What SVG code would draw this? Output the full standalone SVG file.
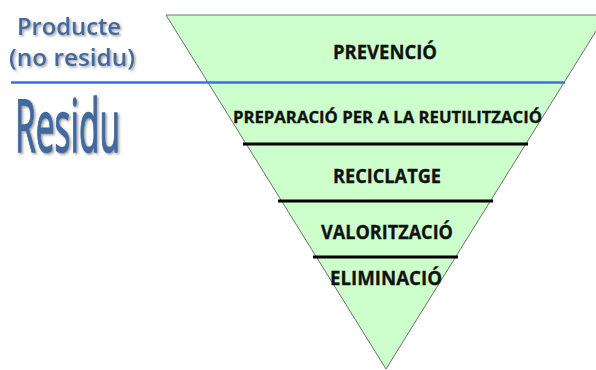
<svg xmlns="http://www.w3.org/2000/svg" width="596" height="370" viewBox="0 0 596 370">
<style>
.lvl{font-family:"Open Sans","Liberation Sans",sans-serif;font-weight:bold;fill:#111;stroke:#111;stroke-width:0.3;text-anchor:middle}
.side{font-family:"Open Sans","Liberation Sans",sans-serif;fill:#3f6aa0;filter:url(#sh)}
.sep{stroke:#000;stroke-width:3}
</style>
<defs>
<filter id="sh" x="-10%" y="-10%" width="130%" height="140%">
<feDropShadow dx="1.5" dy="1.5" stdDeviation="0.8" flood-color="#888" flood-opacity="0.8"/>
</filter>
</defs>
<rect width="596" height="370" fill="#fff"/>
<g id="pyramid">
<polygon points="166,15 606,15 386,369" fill="#ccffcc" stroke="#707070" stroke-width="1"/>
</g>
<g id="connectors">
<line x1="11" y1="82.5" x2="565" y2="82.5" stroke="#3a6ef0" stroke-width="2.5"/>
<line class="sep" x1="243" y1="144" x2="528" y2="144"/>
<line class="sep" x1="278" y1="201" x2="493" y2="201"/>
<line class="sep" x1="313" y1="257" x2="458" y2="257"/>
</g>
<g id="node-prevencio"><text class="lvl" x="385" y="58.5" font-size="19" textLength="104" lengthAdjust="spacingAndGlyphs">PREVENCIÓ</text></g>
<g id="node-preparacio"><text class="lvl" x="387.5" y="122.5" font-size="16" textLength="309" lengthAdjust="spacingAndGlyphs">PREPARACIÓ PER A LA REUTILITZACIÓ</text></g>
<g id="node-reciclatge"><text class="lvl" x="387" y="182.5" font-size="19" textLength="108" lengthAdjust="spacingAndGlyphs">RECICLATGE</text></g>
<g id="node-valoritzacio"><text class="lvl" x="387" y="238.5" font-size="19" textLength="132" lengthAdjust="spacingAndGlyphs">VALORITZACIÓ</text></g>
<g id="node-eliminacio"><text class="lvl" x="386" y="284.5" font-size="19" textLength="112" lengthAdjust="spacingAndGlyphs">ELIMINACIÓ</text></g>
<g id="node-producte">
<text class="side" x="17" y="35" font-size="23" font-weight="600" textLength="104" lengthAdjust="spacingAndGlyphs">Producte</text>
<text class="side" x="9" y="66" font-size="23" font-weight="600" textLength="126" lengthAdjust="spacingAndGlyphs">(no residu)</text>
</g>
<g id="node-residu">
<text class="side" x="15" y="152" font-size="73" stroke="#3f6aa0" stroke-width="1.5" textLength="105" lengthAdjust="spacingAndGlyphs">Residu</text>
</g>
</svg>
